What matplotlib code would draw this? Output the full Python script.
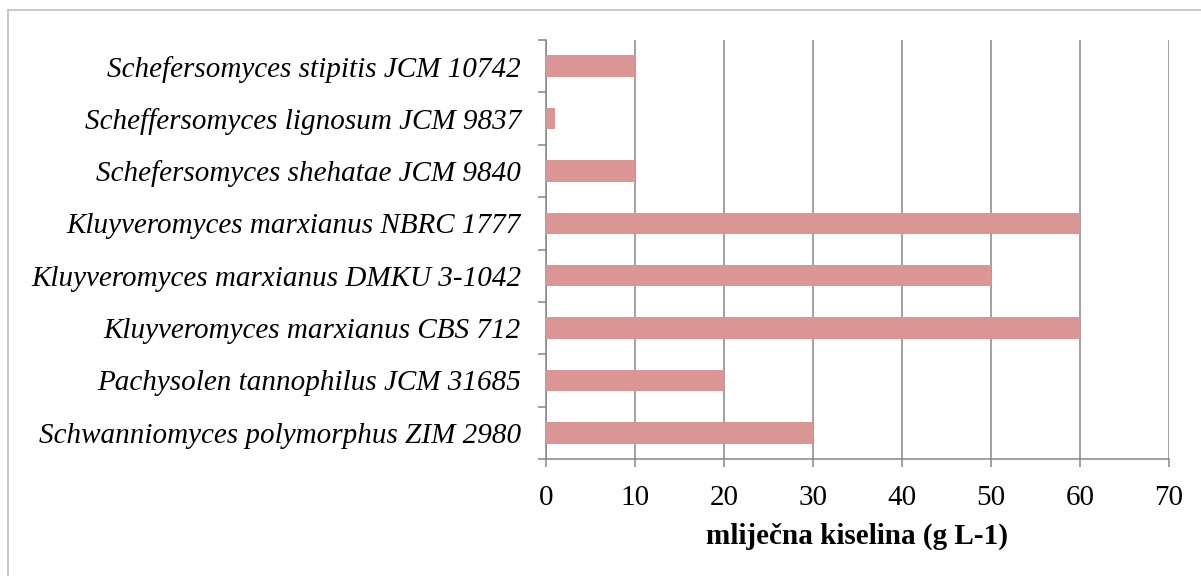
import matplotlib
matplotlib.use("Agg")
import matplotlib.pyplot as plt
from matplotlib.lines import Line2D
import numpy as np

categories = [
    "Schwanniomyces polymorphus ZIM 2980",
    "Pachysolen tannophilus JCM 31685",
    "Kluyveromyces marxianus CBS 712",
    "Kluyveromyces marxianus DMKU 3-1042",
    "Kluyveromyces marxianus NBRC 1777",
    "Schefersomyces shehatae JCM 9840",
    "Scheffersomyces lignosum JCM 9837",
    "Schefersomyces stipitis JCM 10742",
]
values = [30, 20, 60, 50, 60, 10, 1, 10]
xticks = [0, 10, 20, 30, 40, 50, 60, 70]
xlabel = "mliječna kiselina (g L-1)"

plt.rcParams['font.family'] = ['Liberation Serif', 'DejaVu Serif']

W, H = 1201, 576
fig = plt.figure(figsize=(W / 100, H / 100), dpi=100)
ax = fig.add_axes([546 / W, 1 - 459 / H, (1169 - 546) / W, (459 - 40) / H])

grey = "#868686"
y = np.arange(len(categories))
ax.barh(y, values, height=0.41, color="#D99694", zorder=3)

ax.set_xlim(0, 70)
ax.set_ylim(-0.5, len(categories) - 0.5)
ax.set_xticks(xticks)
ax.set_xticklabels([str(t) for t in xticks], fontsize=21)
ax.set_yticks(y)
ax.set_yticklabels(categories, fontsize=21, style='italic')
ax.set_yticks(np.arange(-0.5, len(categories), 1.0), minor=True)

ax.tick_params(axis='y', which='major', length=0, pad=18)
ax.tick_params(axis='y', which='minor', length=6, width=1.1, color=grey, direction='out')
ax.tick_params(axis='x', which='major', length=6, width=1.1, color=grey, direction='out', pad=13)

ax.grid(axis='x', color=grey, linewidth=1.1, zorder=0)
for s in ['top', 'right']:
    ax.spines[s].set_visible(False)
for s in ['left', 'bottom']:
    ax.spines[s].set_color(grey)
    ax.spines[s].set_linewidth(1.1)

ax.set_xlabel(xlabel, fontsize=21, fontweight='bold', labelpad=8)

# outer chart border
bc = "#BFBFBF"
fig.add_artist(Line2D([8 / W, 8 / W], [0, 1 - 10 / H], color=bc, linewidth=1.2, transform=fig.transFigure))
fig.add_artist(Line2D([8 / W, 1.0], [1 - 10 / H, 1 - 10 / H], color=bc, linewidth=1.2, transform=fig.transFigure))

fig.savefig("out.png", dpi=100)
